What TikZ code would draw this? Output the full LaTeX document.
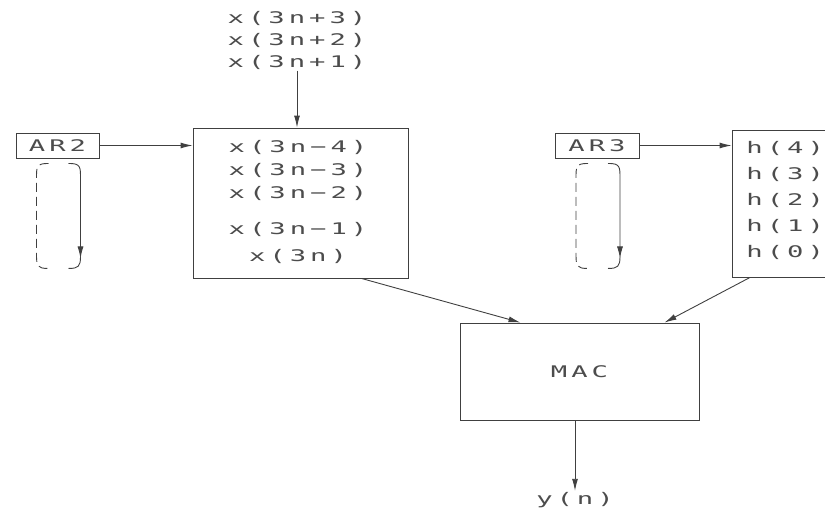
\documentclass[tikz,border=0pt]{standalone}
\usepackage{fontspec}
\newfontfamily\cadfont[FakeStretch=1.7,LetterSpace=25]{DejaVu Sans Mono}
\usetikzlibrary{arrows.meta,positioning,calc}

\begin{document}
\begin{tikzpicture}[x=1pt,y=-1pt,>={Latex[length=12pt,width=6pt]},line width=0.9pt,draw=black!75,font=\fontsize{16}{22}\cadfont]
\tikzstyle{blk}=[draw=black!75,line width=0.9pt,inner sep=0pt]
\tikzstyle{t}=[text=black!70,inner sep=1pt]
\useasboundingbox (0,0) rectangle (825,511);
% buffers
\node[blk,minimum width=83pt,minimum height=25pt,text=black!70] (ar2) at (57.5,145.5) {AR2};
\node[blk,minimum width=84pt,minimum height=25pt,text=black!70] (ar3) at (597,145.5) {AR3};
\node[blk,minimum width=215pt,minimum height=150pt] (xbuf) at (300.5,203) {};
\node[blk,minimum width=98pt,minimum height=147pt] (hbuf) at (781,203.5) {};
\node[blk,minimum width=239pt,minimum height=97pt,text=black!70] (mac) at (579.5,371.5) {MAC};
\foreach \s/\y [count=\i] in {x(3n−4)/147,x(3n−3)/170,x(3n−2)/193,x(3n−1)/229,x(3n)/256}
  \node[t] (x\i) at (298,\y) {\s};
\foreach \s/\y [count=\i] in {h(4)/148,h(3)/174,h(2)/200,h(1)/226,h(0)/252}
  \node[t,anchor=west] (h\i) at (745,\y) {\s};
\node[t,align=center] (xnew) at (297,40) {x(3n+3)\\x(3n+2)\\x(3n+1)};
\node[t] (yout) at (575,500) {y(n)};
% connectors
\draw[->] (xnew.south) -- (xnew.south |- xbuf.north);
\draw[->] (ar2.east) -- (ar2.east -| xbuf.west);
\draw[->] (ar3.east) -- (ar3.east -| hbuf.west);
\draw[->] ([xshift=61pt]xbuf.south) -- ([xshift=-59pt]mac.north);
\draw[->] ([xshift=-31pt]hbuf.south) -- ([xshift=85pt]mac.north);
\draw[->] (yout.north |- mac.south) -- (yout.north);
% address loops
\foreach \a in {ar2,ar3} {
  \begin{scope}[shift={(\a.south)}]
    \draw[dashed,dash pattern=on 9pt off 5pt] (-9,5) .. controls (-21,5) and (-21,8) .. (-21,20) -- (-21,96) .. controls (-21,108) and (-20,110) .. (-9,110);
    \draw[->] (11,5) .. controls (23,5) and (23,8) .. (23,20) -- (23,100);
    \draw (23,98) .. controls (23,108) and (21,110) .. (11,110);
  \end{scope}
}
\end{tikzpicture}
\end{document}
